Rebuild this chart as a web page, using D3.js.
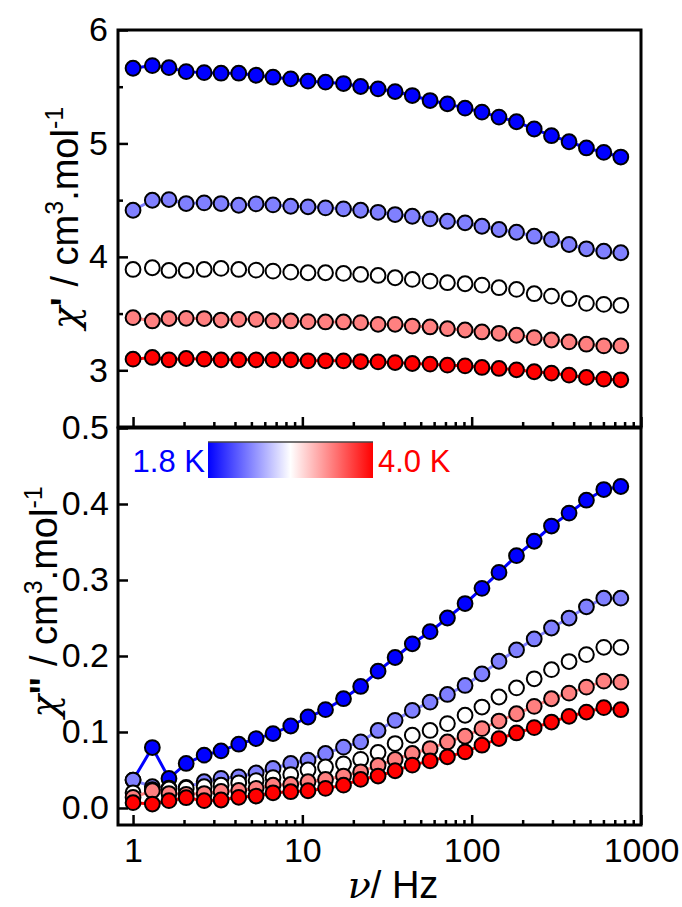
<html>
<head>
<meta charset="utf-8">
<style>
    body { margin: 0; background: #fff; }
    svg { display: block; }
    .tick text { font-family: 'Liberation Sans', Arial, sans-serif; font-size: 34px; fill: #000; }
    .tick line { stroke: #000; stroke-width: 2.5; }
    .domain { display: none; }
    .frame { fill: none; stroke: #000; stroke-width: 3; }
</style>
</head>
<body>
<svg width="682" height="907"></svg>
<script src="https://d3js.org/d3.v7.min.js"></script>
<script>

// frequencies (Hz)
let freq = [1.0, 1.30, 1.63, 2.06, 2.63, 3.31, 4.21, 5.33, 6.71, 8.54,
            10.8, 13.7, 17.5, 22.1, 28.0, 35.3, 44.6, 56.8, 71.9, 91.4,
            115, 145, 184, 234, 296, 376, 476, 603, 760]

let seriesNames = ["1.8 K", "T2", "T3", "T4", "4.0 K"]
let seriesColors = ["#0000ff", "#8080ff", "#ffffff", "#ff8080", "#ff0000"]

// chi' (top panel)
let chi1_s1 = [5.663, 5.686, 5.668, 5.633, 5.624, 5.619, 5.619, 5.601, 5.584, 5.569, 5.549, 5.540, 5.528, 5.502, 5.481,
               5.457, 5.422, 5.378, 5.349, 5.311, 5.276, 5.232, 5.191, 5.127, 5.068, 5.015, 4.960, 4.921, 4.880]
let chi1_s2 = [4.411, 4.499, 4.505, 4.470, 4.476, 4.470, 4.455, 4.467, 4.458, 4.446, 4.441, 4.432, 4.423, 4.411, 4.393,
               4.373, 4.358, 4.335, 4.314, 4.300, 4.270, 4.241, 4.217, 4.182, 4.153, 4.109, 4.071, 4.050, 4.036]
let chi1_s3 = [3.889, 3.904, 3.880, 3.880, 3.889, 3.898, 3.889, 3.883, 3.874, 3.865, 3.860, 3.860, 3.854, 3.845, 3.836,
               3.816, 3.801, 3.786, 3.772, 3.763, 3.751, 3.728, 3.713, 3.675, 3.654, 3.631, 3.590, 3.581, 3.573]
let chi1_s4 = [3.464, 3.435, 3.456, 3.458, 3.456, 3.443, 3.449, 3.449, 3.435, 3.435, 3.429, 3.426, 3.426, 3.420, 3.405,
               3.405, 3.390, 3.382, 3.367, 3.355, 3.338, 3.326, 3.309, 3.288, 3.267, 3.250, 3.230, 3.215, 3.215]
let chi1_s5 = [3.098, 3.113, 3.092, 3.104, 3.098, 3.092, 3.092, 3.092, 3.092, 3.092, 3.083, 3.083, 3.083, 3.077, 3.074,
               3.068, 3.060, 3.054, 3.045, 3.039, 3.025, 3.016, 3.004, 2.987, 2.975, 2.957, 2.937, 2.922, 2.916]

// chi'' (bottom panel)
let chi2_s1 = [0.0367, 0.0795, 0.0389, 0.0586, 0.0695, 0.0751, 0.0839, 0.0913, 0.0979, 0.1079, 0.1197, 0.1294, 0.1438, 0.1599, 0.1800,
               0.198, 0.216, 0.232, 0.250, 0.269, 0.289, 0.310, 0.332, 0.351, 0.371, 0.388, 0.405, 0.419, 0.423]
let chi2_s2 = [0.0367, 0.028, 0.026, 0.027, 0.0345, 0.039, 0.041, 0.046, 0.052, 0.0585, 0.063, 0.0717, 0.080, 0.087, 0.102,
               0.1153, 0.1284, 0.1393, 0.1494, 0.1612, 0.1765, 0.1931, 0.208, 0.2224, 0.2368, 0.2499, 0.2647, 0.2761, 0.2761]
let chi2_s3 = [0.020, 0.024, 0.025, 0.026, 0.028, 0.030, 0.033, 0.036, 0.040, 0.044, 0.050, 0.054, 0.058, 0.064, 0.073,
               0.0848, 0.0957, 0.102, 0.111, 0.122, 0.1328, 0.146, 0.158, 0.170, 0.182, 0.1927, 0.2018, 0.2114, 0.2114]
let chi2_s4 = [0.014, 0.0227, 0.019, 0.018, 0.019, 0.0218, 0.023, 0.0258, 0.030, 0.031, 0.0345, 0.0376, 0.042, 0.0476, 0.056,
               0.0638, 0.0717, 0.0782, 0.0869, 0.0944, 0.1044, 0.1144, 0.124, 0.1337, 0.1437, 0.1511, 0.159, 0.1669, 0.1656]
let chi2_s5 = [0.007, 0.0052, 0.0096, 0.0135, 0.0096, 0.0105, 0.014, 0.0157, 0.020, 0.0214, 0.0227, 0.0258, 0.030, 0.0376, 0.042,
               0.049, 0.0564, 0.062, 0.0673, 0.0738, 0.0826, 0.0913, 0.0987, 0.1057, 0.1131, 0.1206, 0.1262, 0.132, 0.1293]

let topTicks = [3, 4, 5, 6]
let topMinor = [2.5, 3.5, 4.5, 5.5]
let bottomTicks = [0.0, 0.1, 0.2, 0.3, 0.4, 0.5]
let xMajor = [1, 10, 100, 1000]
let xMinor = [2, 3, 4, 5, 6, 7, 8, 9, 20, 30, 40, 50, 60, 70, 80, 90, 200, 300, 400, 500, 600, 700, 800, 900]
let legendLabels = ["1.8 K", "4.0 K"]

let chi1 = [chi1_s1, chi1_s2, chi1_s3, chi1_s4, chi1_s5]
let chi2 = [chi2_s1, chi2_s2, chi2_s3, chi2_s4, chi2_s5]

let svg = d3.select("svg")
let font = "'Liberation Sans', Arial, sans-serif"

let left = 118, right = 641
let top1 = 30, bot1 = 427
let top2 = 428, bot2 = 825

let x = d3.scaleLog()
    .domain([0.815, 1000])
    .range([left, right])

let y1 = d3.scaleLinear()
    .domain([2.5, 6])
    .range([bot1, top1])

let y2 = d3.scaleLinear()
    .domain([-0.0224, 0.5])
    .range([bot2, top2])

// ---- axes ----
// top panel: left
svg.append("g")
    .attr("transform", `translate(${left},0)`)
    .call(d3.axisLeft(y1).tickValues(topTicks).tickSize(-10).tickPadding(10).tickFormat(d3.format("d")))
svg.append("g")
    .attr("transform", `translate(${left},0)`)
    .call(d3.axisLeft(y1).tickValues(topMinor).tickSize(-5).tickFormat(""))
// top panel: bottom (ticks only)
svg.append("g")
    .attr("transform", `translate(0,${bot1})`)
    .call(d3.axisBottom(x).tickValues(xMajor).tickSize(-10).tickFormat(""))
svg.append("g")
    .attr("transform", `translate(0,${bot1})`)
    .call(d3.axisBottom(x).tickValues(xMinor).tickSize(-5).tickFormat(""))

// bottom panel: left
svg.append("g")
    .attr("transform", `translate(${left},0)`)
    .call(d3.axisLeft(y2).tickValues(bottomTicks).tickSize(-10).tickPadding(9).tickFormat(d3.format(".1f")))
// bottom panel: bottom
svg.append("g")
    .attr("class", "xaxis")
    .attr("transform", `translate(0,${bot2})`)
    .call(d3.axisBottom(x).tickValues(xMajor).tickSize(-10).tickPadding(13).tickFormat(d3.format("d")))
svg.append("g")
    .attr("transform", `translate(0,${bot2})`)
    .call(d3.axisBottom(x).tickValues(xMinor).tickSize(-5).tickFormat(""))

svg.selectAll(".xaxis .tick text").attr("dy", "0.71em")

// frames
svg.append("rect").attr("class", "frame")
    .attr("x", left).attr("y", top1).attr("width", right - left).attr("height", bot1 - top1)
svg.append("rect").attr("class", "frame")
    .attr("x", left).attr("y", top2).attr("width", right - left).attr("height", bot2 - top2)

// ---- data ----
function drawPanel(data, y) {
    let g = svg.append("g")
    data.forEach((vals, i) => {
        let pts = freq.map((f, j) => ({f: f, v: vals[j]}))
        g.append("path")
            .datum(pts)
            .attr("fill", "none")
            .attr("stroke", seriesColors[i])
            .attr("stroke-width", 3)
            .attr("d", d3.line().x(d => x(d.f)).y(d => y(d.v)))
        g.selectAll(".pt" + i)
            .data(pts)
            .join("circle")
            .attr("class", "pt" + i)
            .attr("cx", d => x(d.f))
            .attr("cy", d => y(d.v))
            .attr("r", 7.4)
            .attr("fill", seriesColors[i])
            .attr("stroke", "#000")
            .attr("stroke-width", 2)
    })
}

drawPanel(chi1, y1)
drawPanel(chi2, y2)

// ---- colour bar legend ----
let grad = svg.append("defs").append("linearGradient")
    .attr("id", "tgrad")
grad.append("stop").attr("offset", "0%").attr("stop-color", seriesColors[0])
grad.append("stop").attr("offset", "50%").attr("stop-color", seriesColors[2])
grad.append("stop").attr("offset", "100%").attr("stop-color", seriesColors[4])

svg.append("rect")
    .attr("x", 208).attr("y", 442)
    .attr("width", 165).attr("height", 36)
    .attr("fill", "url(#tgrad)")
svg.append("line")
    .attr("x1", 208).attr("x2", 373).attr("y1", 442).attr("y2", 442)
    .attr("stroke", "#444").attr("stroke-width", 1.5)

svg.append("text")
    .attr("x", 205).attr("y", 472)
    .attr("text-anchor", "end")
    .style("font-family", font).style("font-size", "31px")
    .style("fill", seriesColors[0])
    .text(legendLabels[0])
svg.append("text")
    .attr("x", 378).attr("y", 472)
    .style("font-family", font).style("font-size", "31px")
    .style("fill", seriesColors[4])
    .text(legendLabels[1])

// ---- axis titles ----
function yTitle(cx, cy, prime) {
    let t = svg.append("text")
        .attr("transform", `translate(${cx},${cy}) rotate(-90)`)
        .attr("text-anchor", "middle")
        .style("font-family", font)
        .style("font-size", "38px")
    t.append("tspan").style("font-family", "'DejaVu Serif', serif").style("font-style", "italic").text("χ")
    t.append("tspan").style("font-weight", "bold").text(prime)
    t.append("tspan").text(" / cm")
    t.append("tspan").attr("dy", -15).style("font-size", "25px").text("3")
    t.append("tspan").attr("dy", 15).text(".mol")
    t.append("tspan").attr("dy", -15).style("font-size", "25px").text("-1")
}
yTitle(78, 218, "'")
yTitle(57, 602, "\"")

let xt = svg.append("text")
    .attr("x", 393).attr("y", 898)
    .attr("text-anchor", "middle")
    .style("font-family", font)
    .style("font-size", "38px")
xt.append("tspan").style("font-family", "'DejaVu Serif', serif").style("font-style", "italic").text("ν")
xt.append("tspan").text("/ Hz")

</script>
</body>
</html>
